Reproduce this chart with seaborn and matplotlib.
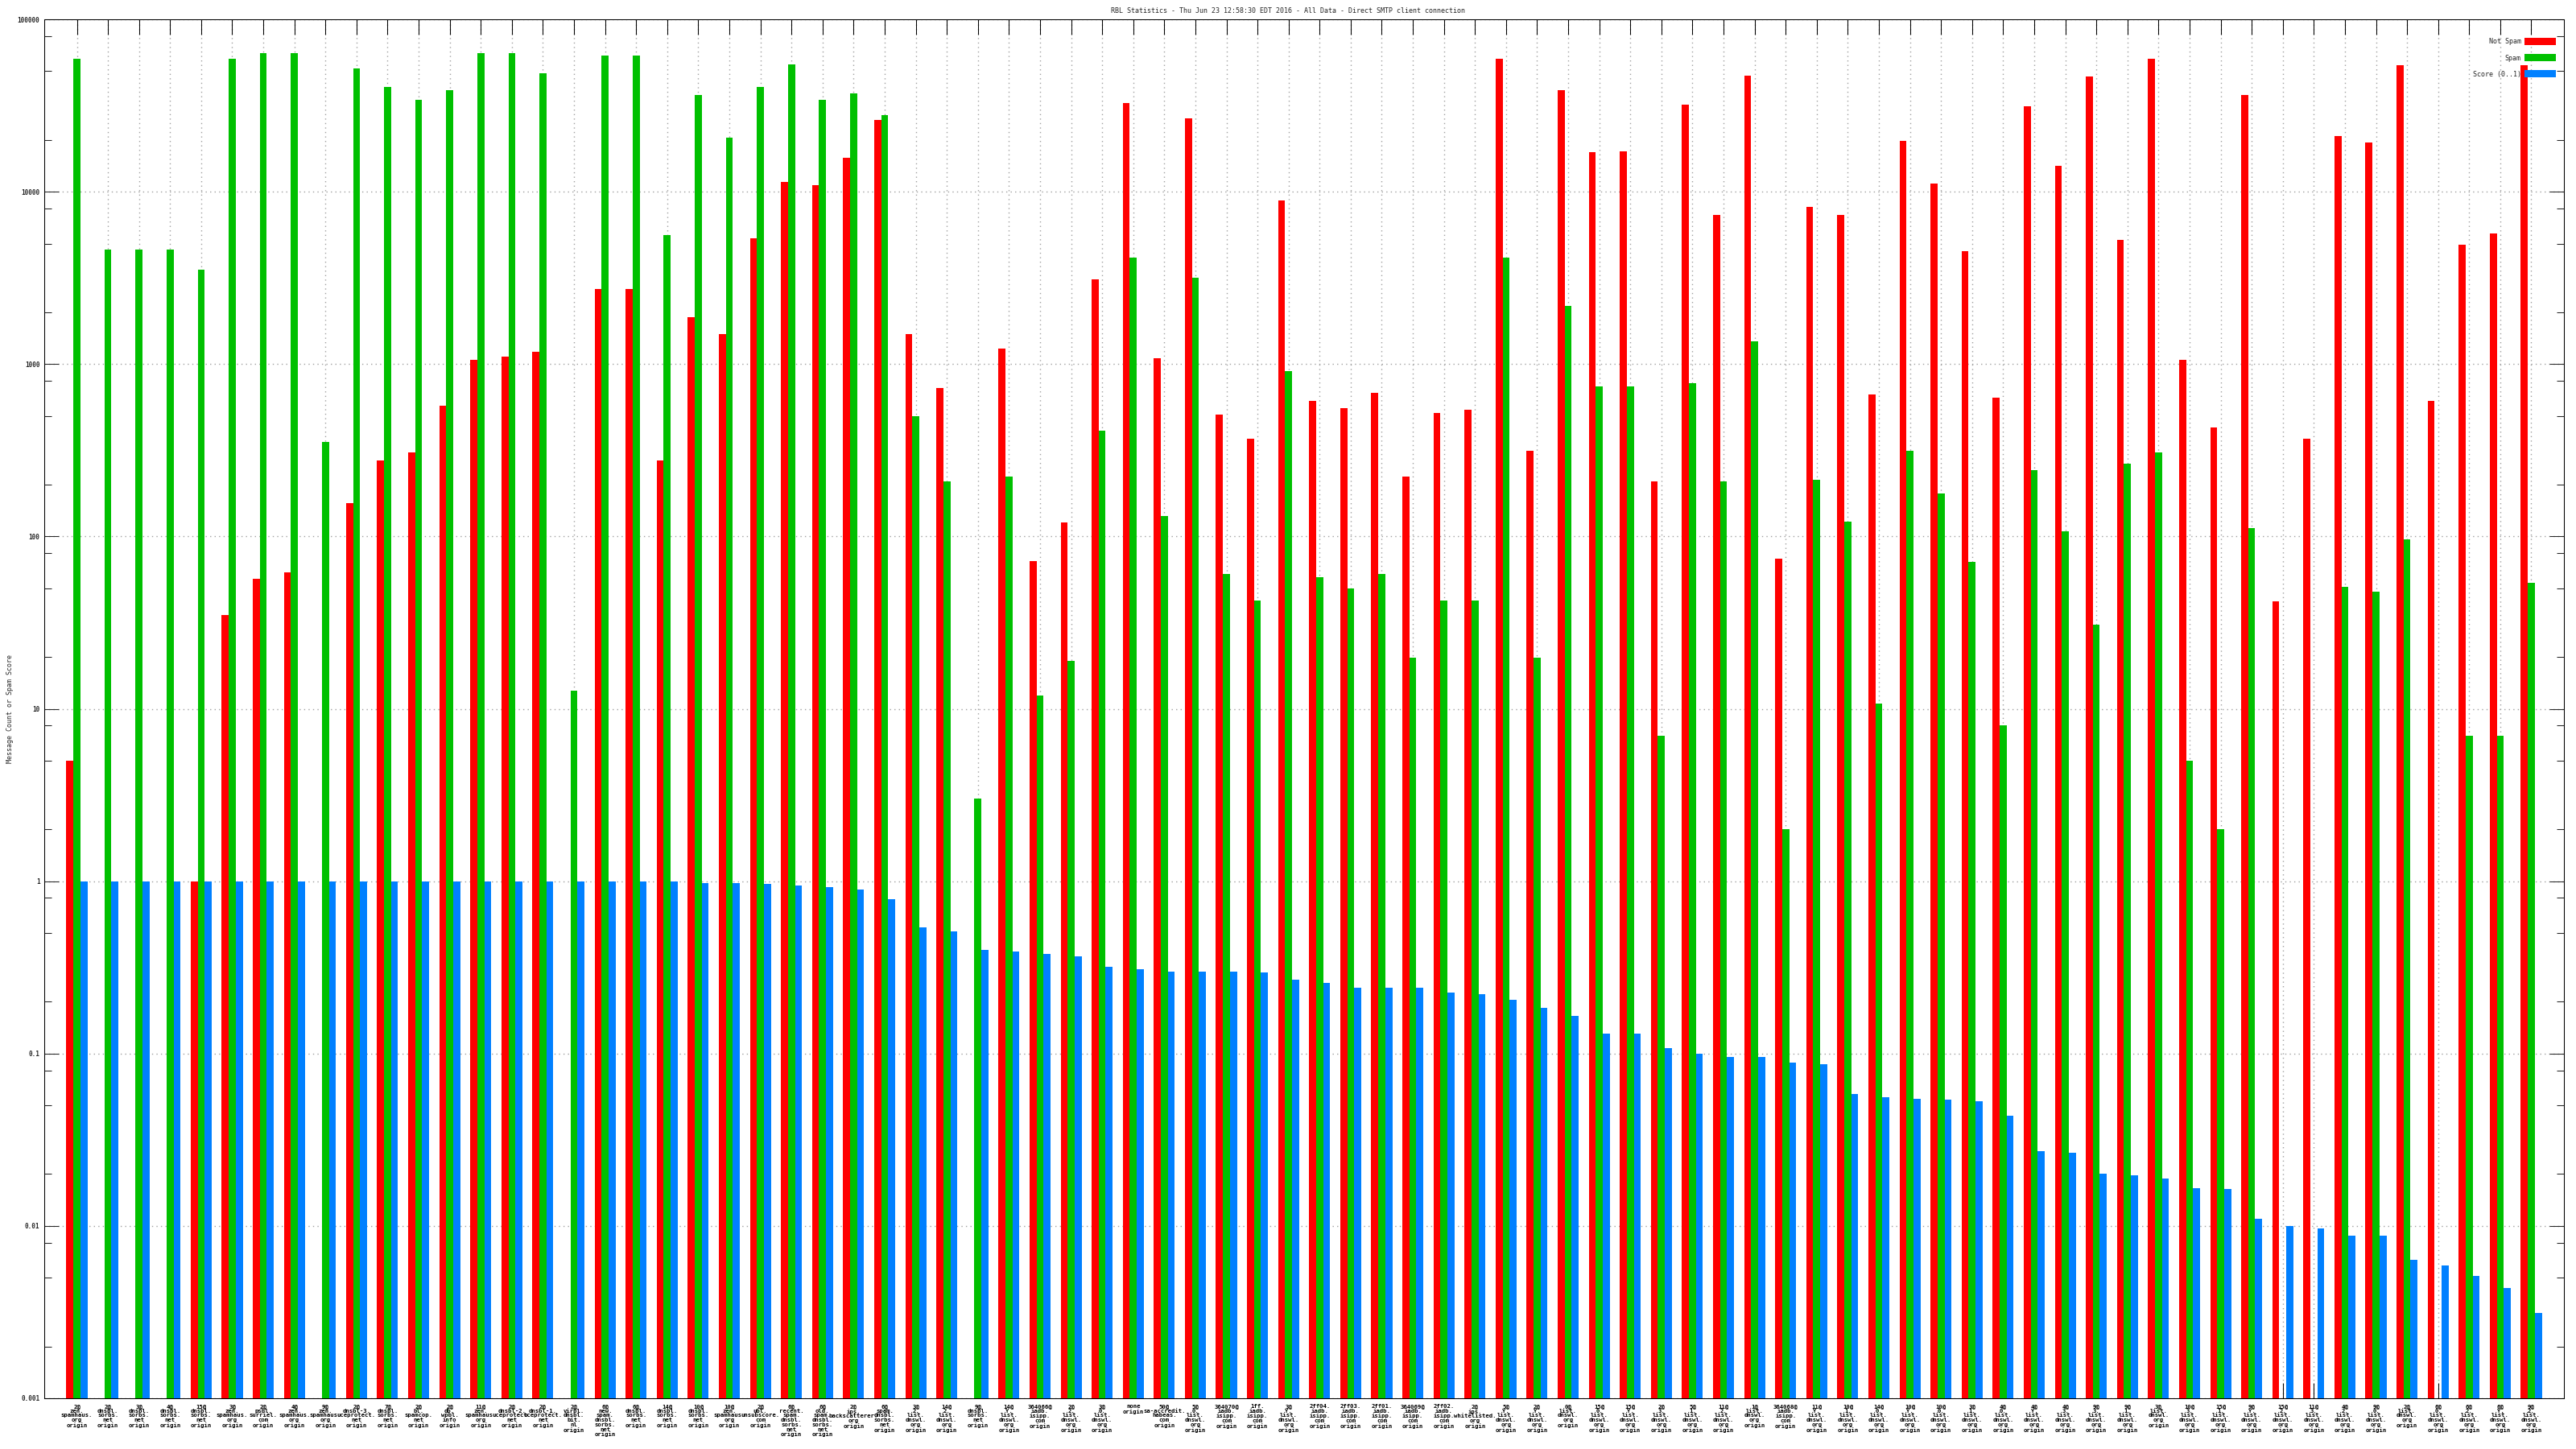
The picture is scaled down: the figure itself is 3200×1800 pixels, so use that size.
import pandas as pd
import numpy as np
import matplotlib
matplotlib.use("Agg")
import matplotlib.pyplot as plt
import matplotlib.ticker as ticker
from matplotlib.patches import Patch
import seaborn as sns

sns.set_style("ticks")
plt.rcParams['font.family'] = ['DejaVu Sans Mono']

# dane
rbl = [
    "2@zen.spamhaus.org origin", "2@dnsbl.sorbs.net origin", "3@dnsbl.sorbs.net origin",
    "4@dnsbl.sorbs.net origin", "15@dnsbl.sorbs.net origin", "3@zen.spamhaus.org origin",
    "2@psbl.surriel.com origin", "4@zen.spamhaus.org origin", "9@zen.spamhaus.org origin",
    "2@dnsbl-3.uceprotect.net origin", "7@dnsbl.sorbs.net origin", "2@bl.spamcop.net origin",
    "2@db.wpbl.info origin", "11@zen.spamhaus.org origin", "2@dnsbl-2.uceprotect.net origin",
    "2@dnsbl-1.uceprotect.net origin", "2@virbl.dnsbl.bit.nl origin", "6@new.spam.dnsbl.sorbs.net origin",
    "6@dnsbl.sorbs.net origin", "14@dnsbl.sorbs.net origin", "10@dnsbl.sorbs.net origin",
    "10@zen.spamhaus.org origin", "2@ubl.unsubscore.com origin", "6@recent.spam.dnsbl.sorbs.net origin",
    "6@old.spam.dnsbl.sorbs.net origin", "2@ips.backscatterer.org origin", "6@spam.dnsbl.sorbs.net origin",
    "3@2.list.dnswl.org origin", "14@2.list.dnswl.org origin", "9@dnsbl.sorbs.net origin",
    "14@Y.list.dnswl.org origin", "364066@iadb.isipp.com origin", "2@2.list.dnswl.org origin",
    "3@0.list.dnswl.org origin", "none origin", "50@sa-accredit.habeas.com origin",
    "5@0.list.dnswl.org origin", "364070@iadb.isipp.com origin", "1ff.iadb.isipp.com origin",
    "3@Y.list.dnswl.org origin", "2ff04.iadb.isipp.com origin", "2ff03.iadb.isipp.com origin",
    "2ff01.iadb.isipp.com origin", "364069@iadb.isipp.com origin", "2ff02.iadb.isipp.com origin",
    "2@ips.whitelisted.org origin", "5@Y.list.dnswl.org origin", "2@Y.list.dnswl.org origin",
    "0@list.dnswl.org origin", "15@0.list.dnswl.org origin", "15@Y.list.dnswl.org origin",
    "2@3.list.dnswl.org origin", "5@1.list.dnswl.org origin", "11@2.list.dnswl.org origin",
    "1@list.dnswl.org origin", "364068@iadb.isipp.com origin", "11@Y.list.dnswl.org origin",
    "10@1.list.dnswl.org origin", "14@0.list.dnswl.org origin", "10@Y.list.dnswl.org origin",
    "10@0.list.dnswl.org origin", "3@1.list.dnswl.org origin", "4@0.list.dnswl.org origin",
    "4@Y.list.dnswl.org origin", "4@3.list.dnswl.org origin", "9@3.list.dnswl.org origin",
    "9@1.list.dnswl.org origin", "3@list.dnswl.org origin", "10@3.list.dnswl.org origin",
    "15@1.list.dnswl.org origin", "9@Y.list.dnswl.org origin", "15@2.list.dnswl.org origin",
    "11@3.list.dnswl.org origin", "4@2.list.dnswl.org origin", "9@0.list.dnswl.org origin",
    "2@list.dnswl.org origin", "6@0.list.dnswl.org origin", "6@2.list.dnswl.org origin",
    "6@Y.list.dnswl.org origin", "9@2.list.dnswl.org origin",
]

not_spam = [5, 0, 0, 0, 1, 35, 57, 62, 0, 156,
            276, 308, 572, 1057, 1100, 1180, 0, 2720, 2720, 276,
            1870, 1500, 5370, 11400, 10900, 15800, 26200, 1500, 728, 0,
            1230, 72, 120, 3100, 32600, 1080, 26700, 512, 368, 8900,
            610, 558, 680, 222, 523, 546, 59000, 315, 38800, 16900,
            17200, 208, 31900, 7300, 47300, 74, 8170, 7300, 665, 19700,
            11100, 4500, 637, 31200, 14100, 46400, 5260, 59000, 1057, 428,
            36400, 42, 368, 21000, 19200, 54100, 610, 4920, 5740, 54000]

spam = [59000, 4600, 4600, 4600, 3540, 59000, 64000, 64000, 352, 51800,
        40600, 34000, 38800, 64000, 64000, 48400, 12.7, 61600, 61600, 5610,
        36400, 20500, 40600, 55000, 34000, 37200, 27900, 500, 208, 3.0,
        222, 11.9, 18.9, 410, 4130, 131, 3170, 60.7, 42.7, 906,
        58, 49.8, 60.7, 19.8, 42.7, 42.7, 4130, 19.8, 2180, 744,
        744, 7.0, 777, 208, 1350, 2.0, 212, 122, 10.7, 315,
        178, 70.8, 8.0, 242, 107, 30.7, 264, 308, 5, 2.0,
        112, 0, 0, 50.8, 47.6, 96, 0, 7, 7, 54]

score = [1, 1, 1, 1, 1, 1, 1, 1, 1, 1,
         1, 1, 1, 1, 1, 1, 1, 1, 1, 1,
         0.98, 0.98, 0.96, 0.94, 0.92, 0.89, 0.79, 0.54, 0.51, 0.40,
         0.39, 0.38, 0.365, 0.32, 0.31, 0.30, 0.30, 0.30, 0.295, 0.267,
         0.256, 0.242, 0.242, 0.242, 0.227, 0.22, 0.204, 0.185, 0.165, 0.13,
         0.13, 0.108, 0.10, 0.096, 0.096, 0.089, 0.087, 0.058, 0.056, 0.0548,
         0.0543, 0.053, 0.0438, 0.0272, 0.0267, 0.0201, 0.0197, 0.0189, 0.0166, 0.0163,
         0.011, 0.0100, 0.0097, 0.0088, 0.0088, 0.00636, 0.0059, 0.0051, 0.00436, 0.00313]

serie = ['Not Spam', 'Spam', 'Score (0..1)']
kolory = ['#ff0000', '#00c000', '#0080ff']
y_ticks = [0.001, 0.01, 0.1, 1, 10, 100, 1000, 10000, 100000]
y_labels = ['0.001', '0.01', '0.1', '1', '10', '100', '1000', '10000', '100000']

tytul = "RBL Statistics - Thu Jun 23 12:58:30 EDT 2016 - All Data - Direct SMTP client connection"


# etykieta w kilku liniach: "2@" / "zen." / "spamhaus." / "org" / "origin"
def zawin(lab):
    nazwa, ogon = lab.rsplit(' ', 1)
    linie = []
    if '@' in nazwa:
        pre, nazwa = nazwa.split('@', 1)
        linie.append(pre + '@')
    kawalki = nazwa.split('.')
    linie += [k + '.' for k in kawalki[:-1]] + [kawalki[-1]]
    linie.append(ogon)
    return '\n'.join(linie)


df = pd.DataFrame({
    'rbl': rbl * 3,
    'serie': np.repeat(serie, len(rbl)),
    'value': not_spam + spam + score,
})
# zera na skali log - nie rysujemy
df['value'] = df['value'].replace(0, np.nan)

fig = plt.figure(figsize=(32, 18), dpi=100)
ax = fig.add_axes([55 / 3200, 63 / 1800, 3130 / 3200, 1713 / 1800])

sns.barplot(data=df, x='rbl', y='value', hue='serie', hue_order=serie, order=rbl,
            palette=kolory, width=0.675, saturation=1, errorbar=None, legend=False,
            linewidth=0, ax=ax)

ax.set_yscale('log')
ax.set_ylim(0.001, 100000)
ax.set_xlim(-1.05, len(rbl) - 1 + 1.05)

ax.yaxis.set_major_locator(ticker.FixedLocator(y_ticks))
ax.yaxis.set_major_formatter(ticker.FixedFormatter(y_labels))
ax.yaxis.set_minor_locator(ticker.LogLocator(base=10, subs=[2, 5, 8], numticks=20))
ax.yaxis.set_minor_formatter(ticker.NullFormatter())

ax.set_xticks(range(len(rbl)))
ax.set_xticklabels([zawin(r) for r in rbl], fontsize=5.2, linespacing=0.95, va='top',
                   fontweight='bold')
for t in ax.get_yticklabels():
    t.set_fontweight('bold')

ax.tick_params(axis='x', which='major', direction='in', top=True, bottom=True,
               length=13.5, width=0.75, pad=5, colors='black')
ax.tick_params(axis='y', which='major', direction='in', left=True, right=True,
               length=13, width=0.75, pad=4, labelsize=5.5)
ax.tick_params(axis='y', which='minor', direction='in', left=True, right=True,
               length=6.5, width=0.75)

# siatka kropkowana pod slupkami
ax.set_axisbelow(True)
ax.grid(True, which='major', axis='both', color='#a0a0a0', linestyle=(0, (1, 3)), linewidth=1)

for s in ax.spines.values():
    s.set_linewidth(0.75)
    s.set_color('black')

ax.set_xlabel('')
ax.set_ylabel('')

fig.text(0.5, 1 - 13 / 1800, tytul, ha='center', va='center', fontsize=6)
fig.text(13 / 3200, 1 - 880 / 1800, 'Message Count or Spam Score', rotation=90,
         ha='center', va='center', fontsize=6)

uchwyty = [Patch(facecolor=k, edgecolor='none', label=s) for s, k in zip(serie, kolory)]
ax.legend(handles=uchwyty, loc='upper right', bbox_to_anchor=(1 - 10 / 3130, 1 - 23 / 1713),
          frameon=False, markerfirst=False, fontsize=6, handlelength=4.7, handleheight=1.3,
          handletextpad=0.5, labelspacing=1.3, borderpad=0, borderaxespad=0)

plt.savefig('out.png', dpi=100)
